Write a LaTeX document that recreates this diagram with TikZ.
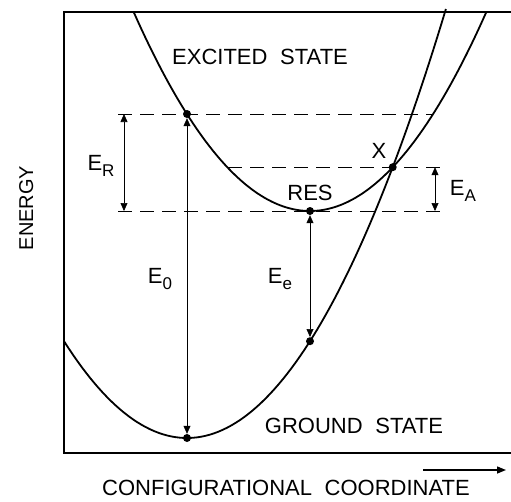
\documentclass[tikz,border=0pt]{standalone}
\usepackage{fontspec}
\setmainfont{Liberation Sans}
\usepackage{tikz}
\usetikzlibrary{arrows.meta}

\newcommand{\lowsub}[1]{\raisebox{-0.28em}{\fontsize{17}{17}\selectfont #1}}

\begin{document}
\begin{tikzpicture}[x=1pt, y=-1pt,
    dot/.style={circle, fill, inner sep=0pt, minimum size=8pt},
    lbl/.style={anchor=base, font=\fontsize{22}{24}\selectfont},
    level/.style={dash pattern=on 14pt off 8pt, line width=0.8pt},
    gap/.style={{Triangle[length=8pt, width=7pt]}-{Triangle[length=8pt, width=7pt]}, line width=0.6pt},
    curve/.style={line width=1.8pt}]
    \useasboundingbox (0, 0) rectangle (511, 501);

    % frame, open on the right
    \draw[line width=1.4pt] (511, 12) -- (64, 12) -- (64, 453) -- (511, 453);

    % the two potential curves
    \draw[curve, domain=133.7:486.3, samples=90] plot (\x, {211 - (0.08*(\x-310))^2});
    \draw[curve, domain=64:445.9, samples=90] plot (\x, {438 - (0.08*(\x-187))^2});

    \node[dot] (top) at (187, 114) {};
    \node[dot] (res) at (310, 211) {};
    \node[dot] (cross) at (392.7, 167.2) {};
    \node[dot] (low) at (310, 341.2) {};
    \node[dot] (gnd) at (187, 438) {};

    % dashed levels
    \coordinate (lvl1a) at (118, 114);
    \coordinate (lvl1b) at (433, 114);
    \coordinate (lvl2a) at (228, 167.2);
    \coordinate (lvl2b) at (443, 167.2);
    \coordinate (lvl3a) at (118, 211);
    \coordinate (lvl3b) at (442, 211);
    \draw[level] (lvl1a) -- (lvl1b);
    \draw[level] (lvl2a) -- (lvl2b);
    \draw[level] (lvl3a) -- (lvl3b);

    % energy gaps
    \coordinate (er1) at (124, 114);
    \coordinate (er2) at (124, 211);
    \coordinate (ea1) at (435, 167.2);
    \coordinate (ea2) at (435, 211);
    \draw[gap] (er1) -- (er2);
    \draw[gap] (gnd) -- (top);
    \draw[gap] (res) -- (low);
    \draw[gap] (ea1) -- (ea2);

    \node[lbl] (er) at (101, 170) {E\lowsub{R}};
    \node[lbl] (e0) at (160, 283) {E\lowsub{0}};
    \node[lbl] (ee) at (280, 283) {E\lowsub{e}};
    \node[lbl] (ea) at (463, 195) {E\lowsub{A}};
    \node[lbl] (xlbl) at (379, 158) {X};
    \node[lbl] (reslbl) at (310, 200) {RES};

    \node[lbl] (excited) at (260, 64) {EXCITED\hspace{0.3em} STATE};
    \node[lbl] (ground) at (354, 433) {GROUND\hspace{0.3em} STATE};

    % axes
    \node[lbl, rotate=90, font=\fontsize{20}{22}\selectfont] (energy) at (33, 208) {ENERGY};
    \node[lbl] (config) at (286, 495) {CONFIGURATIONAL\hspace{0.3em} COORDINATE};
    \coordinate (ax1) at (423, 470);
    \coordinate (ax2) at (506, 470);
    \draw[-{Triangle[length=9pt, width=7pt]}, line width=1.4pt] (ax1) -- (ax2);
\end{tikzpicture}
\end{document}
